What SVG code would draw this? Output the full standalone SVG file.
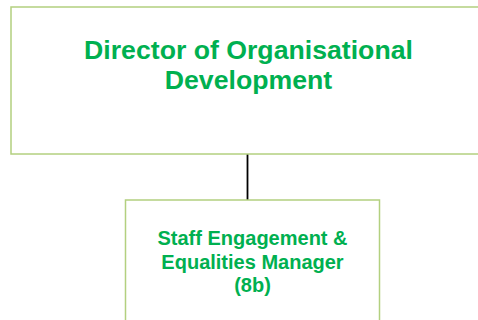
<svg xmlns="http://www.w3.org/2000/svg" width="478" height="320" viewBox="0 0 478 320">
<style>
.box{fill:#ffffff;stroke:#b3d07f;stroke-width:1.5}
.t{font-family:"Liberation Sans",Arial,sans-serif;font-weight:bold;fill:#00b050;text-anchor:middle}
.conn{stroke:#000000;stroke-width:1.8;fill:none}
</style>
<rect width="478" height="320" fill="#ffffff"/>
<g id="connectors">
<line class="conn" x1="247.5" y1="154" x2="247.5" y2="200"/>
</g>
<g id="director">
<rect class="box" x="11" y="7" width="476" height="147"/>
<text class="t" font-size="26.67" x="248.5" y="59">Director of Organisational</text>
<text class="t" font-size="26.67" x="248.5" y="89">Development</text>
</g>
<g id="manager">
<rect class="box" x="125.5" y="200" width="254" height="130"/>
<text class="t" font-size="20" x="252.5" y="245">Staff Engagement &amp;</text>
<text class="t" font-size="20" x="252.5" y="268.5">Equalities Manager</text>
<text class="t" font-size="20" x="252.5" y="292">(8b)</text>
</g>
</svg>
